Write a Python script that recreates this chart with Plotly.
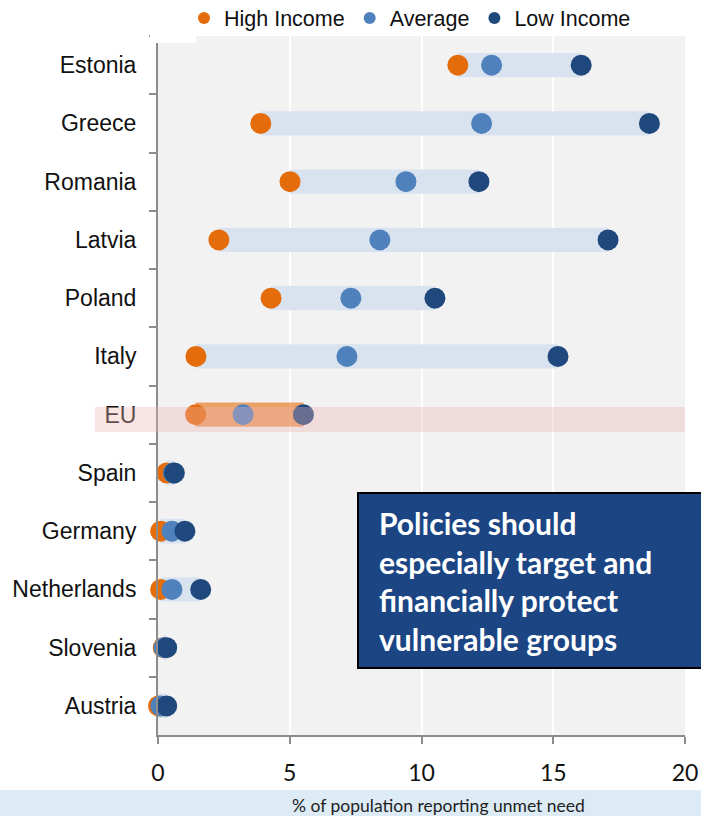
import plotly.graph_objects as go

countries = ["Estonia", "Greece", "Romania", "Latvia", "Poland", "Italy", "EU",
             "Spain", "Germany", "Netherlands", "Slovenia", "Austria"]
high_income = [11.38, 3.90, 5.01, 2.31, 4.29, 1.44, 1.43, 0.33, 0.10, 0.10, 0.20, 0.02]
average = [12.66, 12.28, 9.41, 8.42, 7.32, 7.17, 3.23, 0.58, 0.53, 0.53, 0.23, 0.11]
low_income = [16.06, 18.65, 12.18, 17.08, 10.51, 15.18, 5.52, 0.62, 1.02, 1.62, 0.33, 0.33]
x_ticks = [0, 5, 10, 15, 20]
callout_lines = ["Policies should", "especially target and", "financially protect", "vulnerable groups"]
x_title = "% of population reporting unmet need"

W, H = 701, 816
L, R, T, B = 158, 16, 36, 81
PW, PH = W - L - R, H - T - B


def px(x):
    return (x - L) / PW


def py(y):
    return 1 - (y - T) / PH


ORANGE = "#E46C0A"
AVG = "#4F81BD"
DARK = "#1F497D"

bar_base = [min(a, b, c) for a, b, c in zip(high_income, average, low_income)]
bar_len = [max(a, b, c) - m for a, b, c, m in zip(high_income, average, low_income, bar_base)]
bar_colors = ["rgba(228,108,10,0.6)" if c == "EU" else "#D9E3F0" for c in countries]

fig = go.Figure()
fig.add_trace(go.Bar(y=countries, x=bar_len, base=bar_base, orientation="h",
                     marker=dict(color=bar_colors, line=dict(width=0)),
                     width=0.42, showlegend=False, hoverinfo="skip"))
for name, vals, col in [("High Income", high_income, ORANGE),
                        ("Average", average, AVG),
                        ("Low Income", low_income, DARK)]:
    fig.add_trace(go.Scatter(y=countries, x=vals, mode="markers", name=name, cliponaxis=False,
                             marker=dict(color=col, size=21, line=dict(width=0))))

shapes = [
    # EU highlight band
    dict(type="rect", xref="paper", yref="paper", x0=px(95), x1=px(685), y0=py(432), y1=py(407),
         fillcolor="rgba(240,180,180,0.35)", line=dict(width=0), layer="above"),
    # white patch at top-left
    dict(type="rect", xref="paper", yref="paper", x0=px(150), x1=px(196), y0=py(43), y1=py(35),
         fillcolor="white", line=dict(width=0), layer="above"),
    # callout box
    dict(type="rect", xref="paper", yref="paper", x0=px(358), x1=px(712), y0=py(668), y1=py(493),
         fillcolor="#1C4584", line=dict(color="black", width=2), layer="above"),
    # axis title band
    dict(type="rect", xref="paper", yref="paper", x0=px(-2), x1=px(703), y0=py(818), y1=py(790),
         fillcolor="#DCEBF6", line=dict(width=0), layer="below"),
]

annotations = []
for i, line in enumerate(callout_lines):
    annotations.append(dict(text=line, xref="paper", yref="paper", x=px(377), y=py(523 + i * 38.7),
                            xanchor="left", yanchor="middle", showarrow=False,
                            font=dict(family="Lato", size=30, color="white", weight="bold")))
annotations.append(dict(text=x_title, xref="paper", yref="paper", x=px(438), y=py(806),
                        xanchor="center", yanchor="middle", showarrow=False,
                        font=dict(family="Lato", size=17.5, color="#222222")))

fig.update_layout(
    width=W, height=H,
    margin=dict(l=L, r=R, t=T, b=B, autoexpand=False),
    paper_bgcolor="white", plot_bgcolor="#F2F2F2",
    barmode="overlay",
    shapes=shapes, annotations=annotations,
    legend=dict(orientation="h", x=px(410), xanchor="center", y=py(18), yanchor="middle",
                font=dict(family="Liberation Sans, Arial", size=21.5, color="#111111"),
                itemsizing="constant", bgcolor="rgba(0,0,0,0)", traceorder="normal"),
    showlegend=True,
)
fig.update_xaxes(range=[0, 20], tickvals=x_ticks, showgrid=True, gridcolor="white", gridwidth=2,
                 zeroline=False, showline=True, linecolor="#8C8C8C", linewidth=2,
                 ticks="outside", ticklen=7, tickcolor="#8C8C8C", tickwidth=2,
                 tickfont=dict(family="Lato", size=23, color="#111111"), ticklabelstandoff=9,
                 automargin=False, fixedrange=True)
fig.update_yaxes(categoryorder="array", categoryarray=countries, range=[11.5, -0.5],
                 showgrid=False, zeroline=False, showline=True, linecolor="#8C8C8C", linewidth=2,
                 ticks="outside", ticklen=7, tickcolor="#8C8C8C", tickwidth=2, tickson="boundaries",
                 tickfont=dict(family="Liberation Sans, Arial", size=23, color="#111111"),
                 ticklabelstandoff=15, automargin=False, fixedrange=True)

fig.write_html("out.html", config={"displayModeBar": False},
               post_script="document.body.style.margin='0';")
